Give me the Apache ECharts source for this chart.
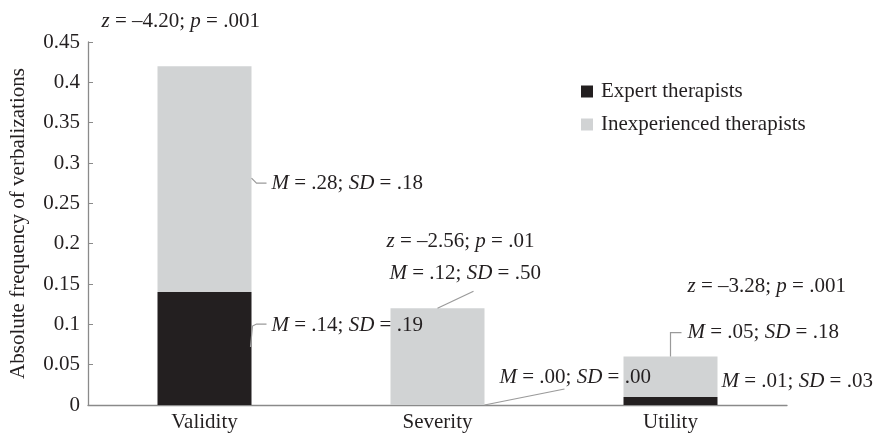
<!DOCTYPE html>
<html>
<head>
<meta charset="utf-8">
<script src="https://cdn.jsdelivr.net/npm/echarts@6/dist/echarts.min.js"></script>
<style>
html, body { margin: 0; padding: 0; background: #fff; }
#main { width: 878px; height: 436px; }
</style>
</head>
<body>
<div id="main"></div>
<script>
// data
var categories = ['Validity', 'Severity', 'Utility'];
var expertValues = [0.14, 0.00, 0.01];
var inexperiencedValues = [0.28, 0.12, 0.05];
var expertStats = [['.14', '.19'], ['.00', '.00'], ['.01', '.03']];
var inexperiencedStats = [['.28', '.18'], ['.12', '.50'], ['.05', '.18']];
var zTests = [['\u20134.20', '.001'], ['\u20132.56', '.01'], ['\u20133.28', '.001']];
var yMin = 0, yMax = 0.45, yStep = 0.05;

var FONT = "'Liberation Serif', 'Times New Roman', serif";
var FS = 21;
var INK = '#231f20';
var BAR_W = 94;

var chart = echarts.init(document.getElementById('main'));
chart.setOption({
	animation: false,
	textStyle: { fontFamily: FONT, color: INK },
	grid: { left: 88, right: 91, top: 42, bottom: 31, containLabel: false, outerBoundsMode: 'none' },
	legend: {
		orient: 'vertical',
		left: 576,
		top: 76,
		itemWidth: 12,
		itemHeight: 12,
		itemGap: 12,
		icon: 'rect',
		textStyle: { fontFamily: FONT, fontSize: FS, color: INK, padding: [0, 0, 0, 3] },
		data: ['Expert therapists', 'Inexperienced therapists']
	},
	xAxis: {
		type: 'category',
		data: categories,
		axisLine: { lineStyle: { color: '#8a8a8a', width: 1.3 } },
		axisTick: { show: false },
		axisLabel: { fontFamily: FONT, fontSize: FS, color: INK, margin: 7 }
	},
	yAxis: {
		type: 'value',
		min: yMin,
		max: yMax,
		interval: yStep,
		name: 'Absolute frequency of verbalizations',
		nameLocation: 'middle',
		nameGap: 59,
		nameTextStyle: { fontFamily: FONT, fontSize: FS, color: INK },
		splitLine: { show: false },
		axisLine: { show: true, lineStyle: { color: '#8a8a8a', width: 1.3 } },
		axisTick: { show: true, inside: true, length: 5, lineStyle: { color: '#8a8a8a' } },
		axisLabel: { fontFamily: FONT, fontSize: FS, color: INK, margin: 8 }
	},
	series: [{
		name: 'Expert therapists',
		type: 'bar',
		stack: 'total',
		barWidth: BAR_W,
		itemStyle: { color: INK },
		data: expertValues
	}, {
		name: 'Inexperienced therapists',
		type: 'bar',
		stack: 'total',
		barWidth: BAR_W,
		itemStyle: { color: '#d1d3d4' },
		data: inexperiencedValues
	}]
});

function pt(i, v) {
	return chart.convertToPixel({ seriesIndex: 0 }, [i, v]);
}
var rich = { i: { fontStyle: 'italic', fontFamily: FONT, fontSize: FS, fill: INK } };
function label(x, y, txt) {
	return {
		type: 'text', x: x, y: y, z: 100,
		style: { text: txt, rich: rich, font: FS + 'px ' + FONT, fill: INK, align: 'left', verticalAlign: 'middle' }
	};
}
function leader(base, pts) {
	return {
		type: 'polyline', z: 90,
		shape: { points: pts.map(function (p) { return [base[0] + p[0], base[1] + p[1]]; }) },
		style: { stroke: '#9a9a9a', lineWidth: 1.2, fill: null }
	};
}

// annotation layout (offsets from bar centre / segment tops)
var zPos = [[-103, -45], [-51, -67], [17, -70]];
var inexpPos = [[67, 117], [-48, -35], [17, -24]];
var expertPos = [[67, 33], [62, -28], [51, -15]];
var inexpLeaders = [[[47, 112], [52, 117], [62, 117]], [[0, 0], [36, -17]], [[0, 0], [0, -24], [11, -24]]];
var expertLeaders = [[[46, 55], [48, 34], [52, 32], [62, 32]], [[47, 0], [127, -16]], null];

var elements = [];
for (var i = 0; i < categories.length; i++) {
	var barTop = pt(i, expertValues[i] + inexperiencedValues[i]);
	var expTop = pt(i, expertValues[i]);
	elements.push(label(barTop[0] + zPos[i][0], barTop[1] + zPos[i][1],
		'{i|z} = ' + zTests[i][0] + '; {i|p} = ' + zTests[i][1]));
	elements.push(label(barTop[0] + inexpPos[i][0], barTop[1] + inexpPos[i][1],
		'{i|M} = ' + inexperiencedStats[i][0] + '; {i|SD} = ' + inexperiencedStats[i][1]));
	elements.push(label(expTop[0] + expertPos[i][0], expTop[1] + expertPos[i][1],
		'{i|M} = ' + expertStats[i][0] + '; {i|SD} = ' + expertStats[i][1]));
	elements.push(leader(barTop, inexpLeaders[i]));
	if (expertLeaders[i]) elements.push(leader(expTop, expertLeaders[i]));
}
chart.setOption({ graphic: { elements: elements } });
</script>
</body>
</html>
